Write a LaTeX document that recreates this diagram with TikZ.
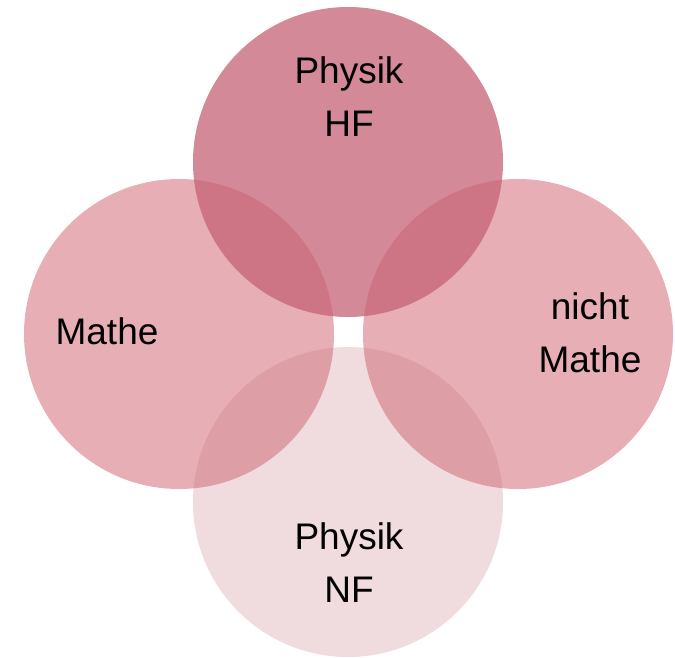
\documentclass[tikz,border=0pt]{standalone}
\usepackage{fontspec}
\setmainfont{Liberation Sans}
\definecolor{cTop}{RGB}{198,98,118}
\definecolor{cSide}{RGB}{209,93,107}
\definecolor{cBot}{RGB}{195,115,123}
\begin{document}
\begin{tikzpicture}[x=1pt,y=-1pt,
  circ/.style={circle,minimum size=310pt,inner sep=0pt,draw=none},
  topc/.style={circ,fill=cTop,fill opacity=0.75},
  sidec/.style={circ,fill=cSide,fill opacity=0.5},
  botc/.style={circ,fill=cBot,fill opacity=0.25},
  lbl/.style={font=\fontsize{37}{53}\selectfont,align=center,text=black,text opacity=1}]
\useasboundingbox (0,0) rectangle (675,657);
\node[sidec] (left) at (179,334) {};
\node[sidec] (right) at (518,334) {};
\node[topc] (top) at (348,162) {};
\node[botc] (bottom) at (348,502) {};
\node[lbl] (ttop) at (349,97) {Physik\\HF};
\node[lbl] (tleft) at (107,331) {Mathe};
\node[lbl] (tright) at (590,333) {nicht\\Mathe};
\node[lbl] (tbot) at (349,563) {Physik\\NF};
\end{tikzpicture}
\end{document}
